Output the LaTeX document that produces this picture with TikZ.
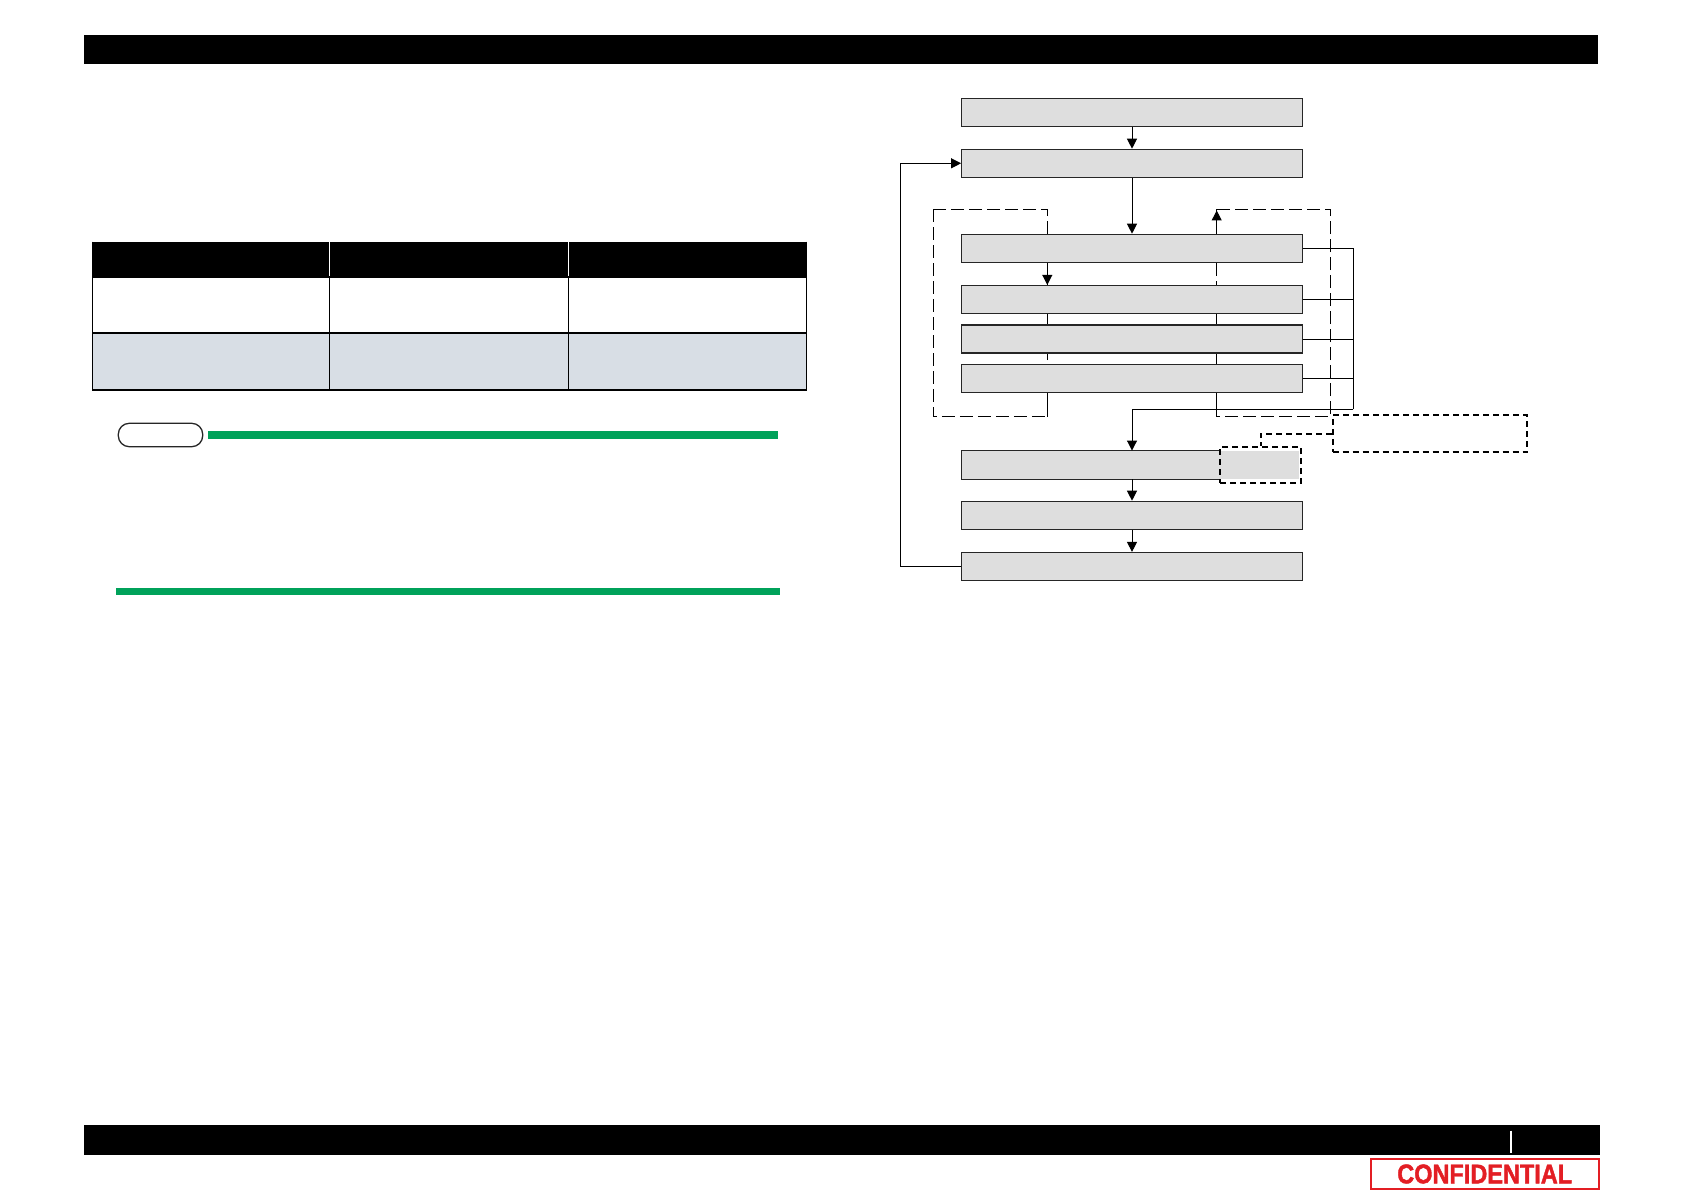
\documentclass[tikz,border=0pt]{standalone}
\usepackage{fontspec}
\newfontfamily\conffont[FakeBold=1.6]{Liberation Sans Bold}
\usetikzlibrary{arrows.meta}
\definecolor{boxgray}{RGB}{222,222,222}
\definecolor{rowblue}{RGB}{216,222,229}
\definecolor{notegreen}{RGB}{0,162,90}
\definecolor{confred}{RGB}{227,30,36}
\tikzset{
  flowbox/.style={draw=black!85, line width=1.2pt, fill=boxgray, inner sep=0pt,
    minimum width=340.6pt, minimum height=28pt},
  arr/.style={line width=1pt, -{Triangle[length=10pt,width=10pt]}},
  conn/.style={line width=1pt},
  loopdash/.style={line width=1pt, dash pattern=on 13pt off 5pt},
  calldash/.style={line width=2pt, dash pattern=on 6pt off 4pt},
}
\begin{document}
\begin{tikzpicture}[x=1pt,y=-1pt]
\useasboundingbox (0,0) rectangle (1684,1190);
% page header and footer bars
\fill[black] (83.8,35.4) rectangle (1598,64.4);
\fill[black] (83.8,1124.5) rectangle (1600,1154.6);
\draw[white, line width=1.5pt] (1511,1130.7) -- (1511,1152.7);
\node[draw=confred, line width=2pt, minimum width=228pt, minimum height=29.4pt, inner sep=0pt]
  (conf) at (1484.7,1174) {\scalebox{0.87}[1]{\conffont\fontsize{27}{27}\selectfont\color{confred}CONFIDENTIAL}};
% table
\fill[black] (92.4,241.7) rectangle (806.6,277);
\fill[rowblue] (92.4,333) rectangle (806.6,389.9);
\draw[white, line width=1.2pt] (329.7,241.7) -- (329.7,277) (568.2,241.7) -- (568.2,277);
\draw[black, line width=1.3pt] (92.4,277) rectangle (806.6,389.9);
\draw[black, line width=1.3pt] (92.4,241.7) -- (92.4,277) (806.6,241.7) -- (806.6,277);
\draw[black, line width=1.2pt] (92.4,333) -- (806.6,333)
  (329.7,277) -- (329.7,389.9) (568.2,277) -- (568.2,389.9);
% note
\node[draw=black!85, line width=1.3pt, rounded corners=11pt, minimum width=84.4pt,
  minimum height=23.4pt, inner sep=0pt] (note) at (160.5,435) {};
\fill[notegreen] (208.3,431) rectangle (777.6,439.3);
\fill[notegreen] (116,587.5) rectangle (779.7,595);
% loop dashed frames
\draw[loopdash] (933.3,209.3) rectangle (1047.3,416.7);
\draw[loopdash] (1216.7,209.3) rectangle (1330.7,416.7);
% flow boxes
\node[flowbox] (b1) at (1132,112.2) {};
\node[flowbox] (b2) at (1132,163.3) {};
\node[flowbox] (b3) at (1132,248.3) {};
\node[flowbox] (b4) at (1132,299.5) {};
\node[flowbox] (b5) at (1132,339) {};
\node[flowbox] (b6) at (1132,378.5) {};
\node[fill=boxgray, inner sep=0pt, minimum width=258.3pt, minimum height=28.3pt] (b7) at (1090.85,464.9) {};
\draw[draw=black!85, line width=1.2pt] (b7.north east) -- (b7.north west) -- (b7.south west) -- (b7.south east);
\node[fill=boxgray, inner sep=0pt, minimum width=79pt, minimum height=28.3pt] (b7r) at (1259.5,464.9) {};
\node[flowbox] (b8) at (1132,515.3) {};
\node[flowbox] (b9) at (1132,566.5) {};
% callouts
\node[draw, calldash, inner sep=0pt, minimum width=81pt, minimum height=36pt] (b7d) at (1260.5,465) {};
\node[draw, calldash, inner sep=0pt, minimum width=194.6pt, minimum height=37pt] (call) at (1430,433.5) {};
\draw[calldash] (call.west) -- (b7d.north |- call.west) -- (b7d.north);
% main arrows
\draw[arr] (b1.south) -- (b2.north);
\draw[arr] (b2.south) -- (b3.north);
\draw[arr] (b9.west) -- ++(-61,0) |- (b2.west);
% inner loop lines
\coordinate (lx) at (1047.3,0);
\coordinate (rx) at (1216.7,0);
\draw[arr] (b3.south -| lx) -- (b4.north -| lx);
\draw[conn] (b4.south -| lx) -- (b5.north -| lx);
\draw[conn] (b6.south -| lx) -- (1047.3,416.7);
\draw[arr] (b3.north -| rx) -- (1216.7,210.5);
\draw[conn] (b4.south -| rx) -- (b5.north -| rx);
\draw[conn] (b6.south -| rx) -- (1216.7,416.7);
% bracket
\coordinate (br) at (1353.3,409.3);
\draw[conn] (b3.east) -| (br);
\draw[conn] (b4.east) -- (b4.east -| br);
\draw[conn] (b5.east) -- (b5.east -| br);
\draw[conn] (b6.east) -- (b6.east -| br);
\draw[arr] (br) -- (b8.north |- br) -- (b8.north |- b7.north);
\draw[arr] (b8.north |- b7.south) -- (b8.north);
\draw[arr] (b8.south) -- (b9.north);
\end{tikzpicture}
\end{document}
